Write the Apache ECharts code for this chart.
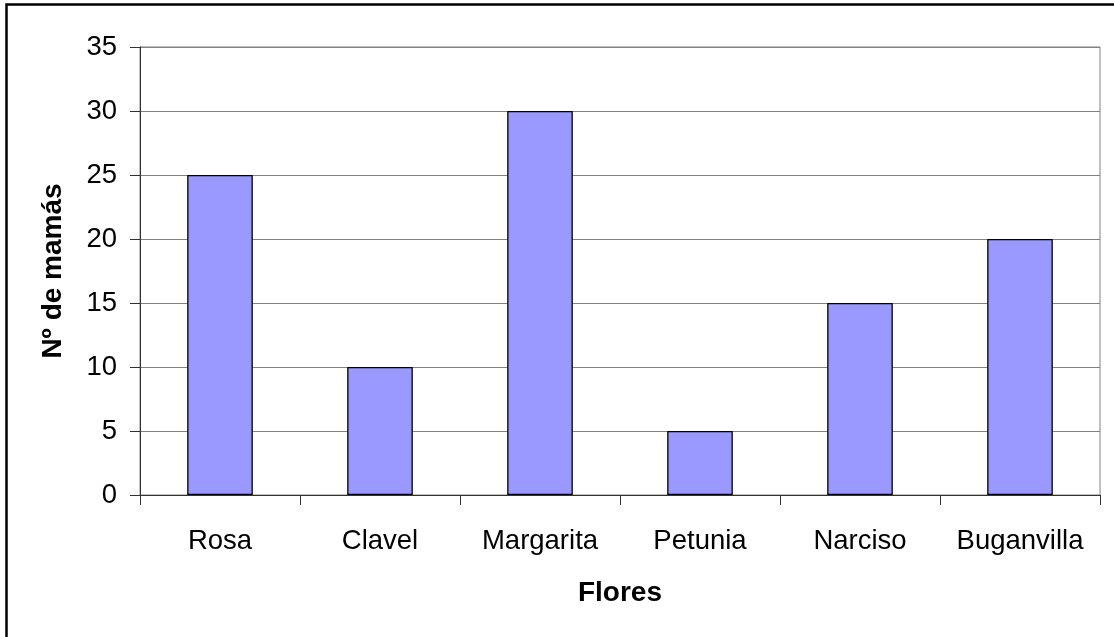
<!DOCTYPE html>
<html><head><meta charset="utf-8">
<script src="https://cdn.jsdelivr.net/npm/echarts@6/dist/echarts.min.js"></script>
<style>html,body{margin:0;padding:0;background:#fff}#c{width:1114px;height:637px}</style>
</head><body><div id="c"></div>
<script>
const categories = ['Rosa','Clavel','Margarita','Petunia','Narciso','Buganvilla'];
const values = [25, 10, 30, 5, 15, 20];
const yTicks = [0,5,10,15,20,25,30,35];
const xTitle = 'Flores';
const yTitle = 'Nº de mamás';

const chart = echarts.init(document.getElementById('c'));
const font = 'Arial, "Liberation Sans", sans-serif';
chart.setOption({
  animation: false,
  backgroundColor: '#fff',
  graphic: [{
    type: 'rect', shape: {x: 6.5, y: 4.5, width: 1300, height: 900},
    style: {fill: 'none', stroke: '#000', lineWidth: 2.5}, z: 100
  }],
  grid: {left: 140, right: 14, top: 47, bottom: 142, show: true, borderColor: '#808080', borderWidth: 1, backgroundColor: '#fff'},
  xAxis: {
    type: 'category', data: categories, boundaryGap: true,
    axisLine: {lineStyle: {color: '#333', width: 1}},
    axisTick: {show: true, alignWithLabel: false, length: 10, lineStyle: {color: '#333'}},
    axisLabel: {color: '#000', fontSize: 27.5, fontFamily: font, margin: 32, interval: 0},
    name: xTitle, nameLocation: 'middle', nameGap: 84,
    nameTextStyle: {color: '#000', fontSize: 28, fontWeight: 'bold', fontFamily: font}
  },
  yAxis: {
    type: 'value', min: yTicks[0], max: yTicks[yTicks.length-1], interval: 5,
    axisLine: {show: true, lineStyle: {color: '#333', width: 1}},
    axisTick: {show: true, length: 10, lineStyle: {color: '#333'}},
    axisLabel: {color: '#000', fontSize: 27.5, fontFamily: font, margin: 23},
    splitLine: {show: true, lineStyle: {color: '#808080', width: 1}},
    name: yTitle, nameLocation: 'middle', nameGap: 73, nameRotate: 90,
    nameTextStyle: {color: '#000', fontSize: 28, fontWeight: 'bold', fontFamily: font}
  },
  series: [{
    type: 'bar', data: values, barWidth: '41%',
    itemStyle: {color: '#9999FF', borderColor: '#000', borderWidth: 1.3}
  }]
});
</script></body></html>
